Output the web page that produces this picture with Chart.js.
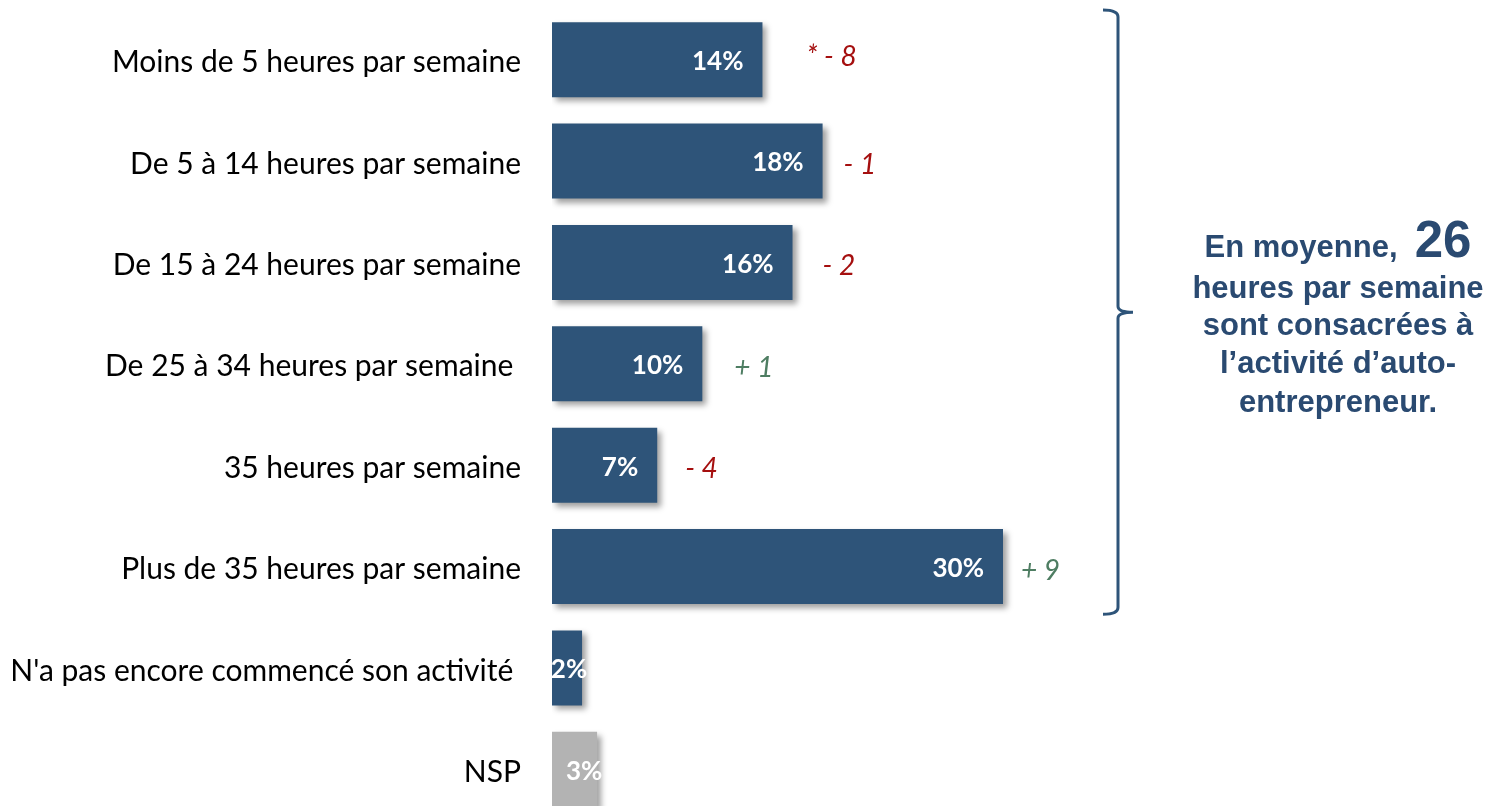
<!DOCTYPE html>
<html>
<head>
<meta charset="utf-8">
<script src="https://cdn.jsdelivr.net/npm/chart.js@4.4.0/dist/chart.umd.min.js"></script>
<style>
  html, body { margin: 0; padding: 0; background: #ffffff; overflow: hidden; }
  #wrap { width: 1497px; height: 806px; overflow: hidden; }
  canvas { display: block; }
</style>
</head>
<body>
<div id="wrap"><canvas id="c" width="1497" height="830"></canvas></div>
<script>
// ---- data ----
const categories = [
  "Moins de 5 heures par semaine",
  "De 5 à 14 heures par semaine",
  "De 15 à 24 heures par semaine",
  "De 25 à 34 heures par semaine ",
  "35 heures par semaine",
  "Plus de 35 heures par semaine",
  "N'a pas encore commencé son activité ",
  "NSP"
];
const values = [14, 18, 16, 10, 7, 30, 2, 3];
const deltas = ["* - 8", "- 1", "- 2", "+ 1", "- 4", "+ 9", null, null];
const summaryLead = "En moyenne,";
const summaryNumber = "26";
const summaryLines = ["heures par semaine", "sont consacrées à", "l\u2019activité d\u2019auto-", "entrepreneur."];
const bracedCount = 6;

// ---- layout / style ----
const deltaGap = [44, 21, 30, 32, 28, 18, 0, 0];
const BLUE = "#2E5479";
const GREY = "#B3B3B3";
const RED = "#A50F0F";
const GREEN = "#4E7D62";
const TEXTBLUE = "#2A4A71";
const barColors = values.map((v, i) => categories[i] === "NSP" ? GREY : BLUE);

const shadowPlugin = {
  id: "shadow",
  beforeDatasetsDraw(chart) {
    const ctx = chart.ctx;
    ctx.save();
    ctx.shadowColor = "rgba(0,0,0,0.38)";
    ctx.shadowBlur = 6;
    ctx.shadowOffsetX = 4;
    ctx.shadowOffsetY = 4;
  },
  afterDatasetsDraw(chart) {
    chart.ctx.restore();
  }
};

const labelPlugin = {
  id: "labels",
  afterDraw(chart) {
    const ctx = chart.ctx;
    const meta = chart.getDatasetMeta(0);
    const yScale = chart.scales.y;
    ctx.save();
    // value labels
    ctx.font = "bold 26px Lato";
    ctx.fillStyle = "#ffffff";
    ctx.textBaseline = "middle";
    meta.data.forEach((bar, i) => {
      const txt = values[i] + "%";
      const w = ctx.measureText(txt).width;
      const bw = bar.x - bar.base;
      if (w + 21 < bw) {
        ctx.textAlign = "right";
        ctx.fillText(txt, bar.x - 19, bar.y + 2);
      } else {
        ctx.textAlign = "center";
        ctx.fillText(txt, bar.x - 13, bar.y + 2);
      }
    });
    // deltas
    ctx.font = "italic 28px Lato";
    ctx.textAlign = "left";
    meta.data.forEach((bar, i) => {
      const d = deltas[i];
      if (!d) return;
      ctx.fillStyle = d.trim().startsWith("+") ? GREEN : RED;
      ctx.fillText(d, bar.x + deltaGap[i], bar.y + (i === 0 ? -3 : 4));
    });
    // brace
    const step = yScale.getPixelForValue(1) - yScale.getPixelForValue(0);
    const top = yScale.getPixelForValue(0) - step / 2 + 1;
    const bot = yScale.getPixelForValue(bracedCount - 1) + step / 2 - 3;
    const mid = (top + bot) / 2;
    const xl = 1103, xv = 1118, xr = 1133;
    ctx.strokeStyle = BLUE;
    ctx.lineWidth = 3;
    ctx.lineCap = "butt";
    ctx.beginPath();
    ctx.moveTo(xl, top);
    ctx.quadraticCurveTo(xv, top, xv, top + 7);
    ctx.lineTo(xv, mid - 6);
    ctx.quadraticCurveTo(xv, mid, xr, mid);
    ctx.moveTo(xr, mid);
    ctx.quadraticCurveTo(xv, mid, xv, mid + 6);
    ctx.lineTo(xv, bot - 7);
    ctx.quadraticCurveTo(xv, bot, xl, bot);
    ctx.stroke();
    // summary text
    const cx = 1338;
    ctx.fillStyle = TEXTBLUE;
    ctx.textBaseline = "alphabetic";
    ctx.textAlign = "left";
    const f1 = "bold 31px 'Liberation Sans'";
    const f2 = "bold 51px 'Liberation Sans'";
    ctx.font = f1;
    const lead = summaryLead + "  ";
    const w1 = ctx.measureText(lead).width;
    ctx.font = f2;
    const w2 = ctx.measureText(summaryNumber).width;
    const sx = cx - (w1 + w2) / 2;
    ctx.font = f1;
    ctx.fillText(lead, sx, 257);
    ctx.font = f2;
    ctx.fillText(summaryNumber, sx + w1, 257);
    ctx.font = f1;
    ctx.textAlign = "center";
    const baselines = [298, 335, 373, 412];
    summaryLines.forEach((t, i) => ctx.fillText(t, cx, baselines[i]));
    ctx.restore();
  }
};

new Chart(document.getElementById("c"), {
  type: "bar",
  data: {
    labels: categories,
    datasets: [{
      data: values,
      backgroundColor: barColors,
      borderWidth: 0,
      barPercentage: 0.74,
      categoryPercentage: 1.0
    }]
  },
  options: {
    indexAxis: "y",
    responsive: false,
    animation: false,
    devicePixelRatio: 1,
    layout: { padding: { top: 9, bottom: 10, left: 0, right: 43 } },
    plugins: { legend: { display: false }, tooltip: { enabled: false } },
    scales: {
      x: { display: false, min: 0, max: 60 },
      y: {
        afterFit(s) { s.width = 552; s.paddingTop = 0; s.paddingBottom = 0; },
        grid: { display: false, drawTicks: false },
        border: { display: false },
        ticks: {
          padding: 31,
          labelOffset: 3,
          color: "#000000",
          font: { family: "Lato", size: 30 }
        }
      }
    }
  },
  plugins: [shadowPlugin, labelPlugin]
});
</script>
</body>
</html>
